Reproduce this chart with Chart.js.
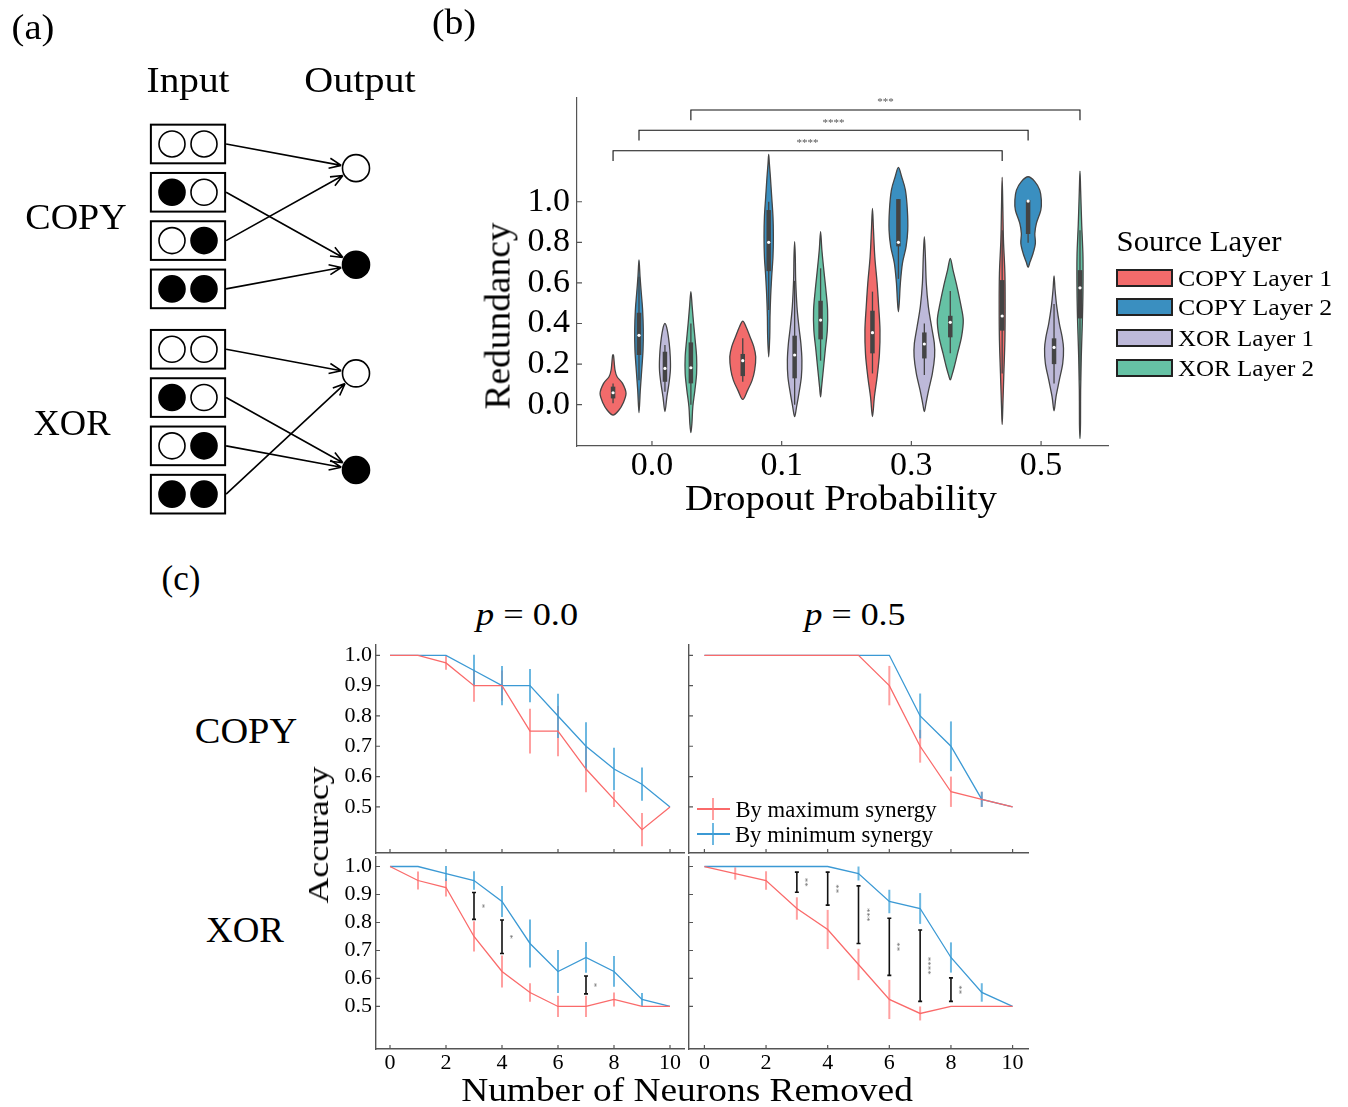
<!DOCTYPE html>
<html>
<head>
<meta charset="utf-8">
<title>Redundancy and synergy</title>
<script src="https://cdn.jsdelivr.net/npm/chart.js@4.4.1/dist/chart.umd.min.js"></script>
<style>
  body { margin: 0; width: 1348px; height: 1107px; position: relative; overflow: hidden; background: #fff;
         font-family: "Liberation Serif", "Times New Roman", serif; }
  canvas { position: absolute; }
  .t { position: absolute; white-space: nowrap; line-height: 1; color: #000; transform: translate(-50%, -50%); }
  .sw { position: absolute; width: 53px; height: 14px; border: 2px solid #222; }
  .mk { position: absolute; }
</style>
</head>
<body>
<canvas id="panelA"></canvas>
<canvas id="panelB"></canvas>
<canvas id="copyP0"></canvas>
<canvas id="copyP5"></canvas>
<canvas id="xorP0"></canvas>
<canvas id="xorP5"></canvas>
<script>
const SERIF = '"Liberation Serif", "Times New Roman", serif';

// ---- (a) task diagram
const inputPatterns = [[0, 0], [1, 0], [0, 1], [1, 1]];
const copyOutput = [0, 1, 0, 1];
const xorOutput = [0, 1, 1, 0];

// ---- (b) redundancy violins
const dropoutLabels = ['0.0', '0.1', '0.3', '0.5'];
const sourceLayers = ['COPY Layer 1', 'COPY Layer 2', 'XOR Layer 1', 'XOR Layer 2'];
const layerColors = ['#f26b6b', '#3a8fc0', '#bdb9d9', '#66c2a5'];

// violin outlines: redundancy values and half widths (hundredths of a category step), per dropout group
const copy1Y = [[-0.051, -0.026, 0.007, 0.056, 0.105, 0.138, 0.171, 0.236, 0.245],
                [0.026, 0.072, 0.12, 0.171, 0.236, 0.286, 0.335, 0.384, 0.412],
                [-0.059, 0.039, 0.138, 0.253, 0.368, 0.483, 0.598, 0.729, 0.86, 0.967],
                [-0.097, -0.01, 0.154, 0.319, 0.483, 0.647, 0.811, 0.975, 1.12]];
const copy1W = [[0, 4.6, 7.7, 10, 7.3, 3.1, 1.5, 0.5, 0],
                [0, 3.8, 7.2, 9.2, 10, 8.5, 5.6, 2.5, 0],
                [0, 1.5, 3.6, 5.4, 5.8, 4.8, 3.6, 1.8, 0.8, 0],
                [0, 0.5, 1.3, 2.1, 2.3, 2.1, 1.0, 0.5, 0]];
const copy2Y = [[-0.039, 0.072, 0.171, 0.269, 0.368, 0.466, 0.548, 0.631, 0.713],
                [0.236, 0.335, 0.433, 0.532, 0.631, 0.729, 0.828, 0.926, 1.025, 1.123, 1.189, 1.233],
                [0.458, 0.516, 0.598, 0.696, 0.778, 0.86, 0.959, 1.057, 1.123, 1.169],
                [0.677, 0.704, 0.745, 0.795, 0.844, 0.893, 0.959, 1.008, 1.057, 1.099, 1.123]];
const copy2W = [[0, 1.0, 2.1, 3.1, 3.3, 2.8, 1.8, 0.8, 0],
                [0, 0.8, 1.0, 1.5, 2.3, 3.3, 3.6, 3.3, 2.3, 1.3, 0.5, 0],
                [0, 0.8, 1.5, 3.1, 5.9, 7.2, 6.9, 5.4, 2.5, 0],
                [0, 1.5, 3.8, 5.6, 5.2, 6.4, 9.8, 10.2, 9, 5.2, 0]];
const xor1Y = [[-0.034, 0.039, 0.105, 0.171, 0.236, 0.302, 0.368, 0.40],
               [-0.059, -0.01, 0.056, 0.138, 0.22, 0.302, 0.384, 0.483, 0.614, 0.729, 0.803],
               [-0.034, 0.007, 0.072, 0.154, 0.236, 0.302, 0.384, 0.483, 0.598, 0.729, 0.828],
               [-0.03, 0.039, 0.122, 0.204, 0.277, 0.335, 0.40, 0.483, 0.565, 0.635]];
const xor1W = [[0, 1.5, 3.1, 4.2, 4.1, 3.3, 1.8, 0],
               [0, 1.5, 3.3, 5.2, 5.6, 4.8, 3.3, 1.8, 0.8, 0.5, 0],
               [0, 1.3, 3.3, 6.2, 7.9, 7.7, 5.6, 3.1, 1.5, 0.8, 0],
               [0, 1.5, 4.1, 6.7, 7.3, 6.2, 4.1, 2.1, 0.8, 0]];
const xor2Y = [[-0.138, -0.092, -0.01, 0.072, 0.154, 0.236, 0.319, 0.40, 0.483, 0.557],
               [0.039, 0.089, 0.171, 0.269, 0.368, 0.466, 0.565, 0.663, 0.762, 0.852],
               [0.122, 0.146, 0.187, 0.253, 0.335, 0.417, 0.499, 0.581, 0.663, 0.721],
               [-0.166, -0.092, 0.072, 0.236, 0.40, 0.565, 0.729, 0.893, 1.057, 1.151]];
const xor2W = [[0, 0.8, 1.5, 3.1, 4.4, 4.4, 3.3, 2.1, 1.0, 0],
               [0, 0.8, 2.1, 3.6, 5.2, 5.4, 4.1, 2.5, 1.0, 0],
               [0, 1.3, 3.1, 5.6, 8.7, 10, 7.9, 5.2, 2.1, 0],
               [0, 0.4, 0.5, 1.0, 1.8, 2.3, 2.3, 1.3, 0.5, 0]];

// inner box plots, layer x dropout group
const boxQ1 = [[0.031, 0.141, 0.253, 0.365], [0.245, 0.658, 0.78, 0.841], [0.113, 0.13, 0.228, 0.2], [0.105, 0.322, 0.332, 0.425]];
const boxQ3 = [[0.089, 0.25, 0.463, 0.614], [0.453, 0.959, 1.013, 1.008], [0.261, 0.34, 0.356, 0.327], [0.307, 0.512, 0.438, 0.663]];
const boxMed = [[0.059, 0.217, 0.355, 0.437], [0.342, 0.80, 0.80, 1.003], [0.179, 0.245, 0.299, 0.282], [0.182, 0.417, 0.406, 0.576]];
const whiskLo = [[0.007, 0.113, 0.154, 0.154], [0.12, 0.466, 0.62, 0.798], [0.064, 0.0, 0.146, 0.105], [0.0, 0.217, 0.253, 0.12]];
const whiskHi = [[0.105, 0.327, 0.557, 0.86], [0.63, 1.0, 1.013, 1.008], [0.294, 0.61, 0.40, 0.496], [0.40, 0.672, 0.56, 0.86]];

// significance brackets between dropout 0.0 and 0.5: layer, stars, height
const bracketLayer = [0, 1, 3];
const bracketStars = ['****', '****', '***'];
const bracketLevel = [1.251, 1.352, 1.452];

// ---- (c) accuracy after removing neurons
const removed = [0, 1, 2, 3, 4, 5, 6, 7, 8, 9, 10];
const copyP0Max = [1.0, 1.0, 0.975, 0.90, 0.90, 0.75, 0.75, 0.625, 0.525, 0.425, 0.5];
const copyP0MaxErr = [0, 0, 0.023, 0.053, 0.05, 0.074, 0.083, 0.077, 0.025, 0.055, 0];
const copyP0Min = [1.0, 1.0, 1.0, 0.95, 0.90, 0.90, 0.80, 0.70, 0.625, 0.575, 0.5];
const copyP0MinErr = [0, 0, 0, 0.052, 0.065, 0.055, 0.073, 0.079, 0.07, 0.055, 0];
const copyP5Max = [1, 1, 1, 1, 1, 1, 0.90, 0.70, 0.55, 0.525, 0.5];
const copyP5MaxErr = [0, 0, 0, 0, 0, 0, 0.065, 0.054, 0.05, 0.025, 0];
const copyP5Min = [1, 1, 1, 1, 1, 1, 1, 0.80, 0.70, 0.525, 0.5];
const copyP5MinErr = [0, 0, 0, 0, 0, 0, 0, 0.074, 0.082, 0.025, 0];
const xorP0Max = [1.0, 0.95, 0.925, 0.75, 0.625, 0.55, 0.5, 0.5, 0.525, 0.5, 0.5];
const xorP0MaxErr = [0, 0.032, 0.032, 0.054, 0.057, 0.033, 0.038, 0.038, 0.025, 0, 0];
const xorP0Min = [1.0, 1.0, 0.975, 0.95, 0.875, 0.725, 0.625, 0.675, 0.625, 0.525, 0.5];
const xorP0MinErr = [0, 0, 0.027, 0.033, 0.055, 0.086, 0.077, 0.055, 0.055, 0.023, 0];
const xorP5Max = [1.0, 0.975, 0.95, 0.85, 0.775, 0.65, 0.525, 0.475, 0.5, 0.5, 0.5];
const xorP5MaxErr = [0, 0.022, 0.033, 0.04, 0.07, 0.056, 0.07, 0.025, 0, 0, 0];
const xorP5Min = [1, 1, 1, 1, 1, 0.975, 0.875, 0.85, 0.675, 0.55, 0.5];
const xorP5MinErr = [0, 0, 0, 0, 0, 0.025, 0.042, 0.055, 0.054, 0.033, 0];
// significance bars: neurons removed, low, high, stars
const xorP0Sig = [[3, 0.811, 0.907, '*'], [4, 0.689, 0.809, '*'], [7, 0.545, 0.609, '*']];
const xorP5Sig = [[3, 0.908, 0.98, '**'], [4, 0.862, 0.98, '**'], [5, 0.725, 0.931, '***'],
                  [6, 0.611, 0.815, '**'], [7, 0.518, 0.773, '****'], [8, 0.518, 0.602, '**']];

const redLine = '#fa6a6a', redErr = 'rgba(255,120,120,0.7)';
const blueLine = '#3b99d4', blueErr = 'rgba(60,160,215,0.75)';

Chart.defaults.font.family = SERIF;
Chart.defaults.color = '#000';
Chart.defaults.animation = false;
Chart.defaults.plugins.legend.display = false;
Chart.defaults.plugins.tooltip.enabled = false;

function place(cv, left, top, w, h) {
  cv.style.left = left + 'px';
  cv.style.top = top + 'px';
  cv.width = w;
  cv.height = h;
}

// axis with a fixed thickness and no label overhang, so the plot area lands where it should
function fixedBox(size) {
  return s => {
    if (s.isHorizontal()) s.height = size; else s.width = size;
    s.paddingTop = s.paddingBottom = s.paddingLeft = s.paddingRight = 0;
  };
}

// text stretched to the width it has in the original figure
function addText(html, cx, cy, size, width, rotate) {
  const d = document.createElement('div');
  d.className = 't';
  d.innerHTML = html;
  d.style.fontSize = size + 'px';
  d.style.left = cx + 'px';
  d.style.top = cy + 'px';
  document.body.appendChild(d);
  const sx = width ? width / d.offsetWidth : 1;
  d.style.transform = 'translate(-50%, -50%)' + (rotate ? ' rotate(-90deg)' : '') + ' scaleX(' + sx + ')';
  return d;
}

// ticks pointing into the plot, like the original
const inTicks = {
  id: 'inTicks',
  afterDraw(chart, args, opts) {
    if (!opts.len) return;
    const {ctx, chartArea: a, scales: {x, y}} = chart;
    ctx.save();
    ctx.strokeStyle = '#555';
    ctx.lineWidth = 1.2;
    ctx.beginPath();
    x.ticks.forEach(t => { const p = x.getPixelForValue(t.value); ctx.moveTo(p, a.bottom); ctx.lineTo(p, a.bottom - opts.len); });
    y.ticks.forEach(t => { const p = y.getPixelForValue(t.value); ctx.moveTo(a.left, p); ctx.lineTo(a.left + opts.len, p); });
    ctx.stroke();
    ctx.restore();
  }
};

// ================= (a)
const blockStart = [0, 4.25];
const inPts = [], inFill = [], outPts = [], outFill = [];
[copyOutput, xorOutput].forEach((outs, g) => {
  inputPatterns.forEach((bits, r) => bits.forEach((b, i) => {
    inPts.push({x: i, y: blockStart[g] + r});
    inFill.push(b ? '#000' : '#fff');
  }));
  [0, 1].forEach(v => {
    outPts.push({x: 5.75, y: blockStart[g] + 0.5 + 2 * v});
    outFill.push(v ? '#000' : '#fff');
  });
});

const diagram = {
  id: 'diagram',
  beforeDatasetsDraw(chart) {
    const {ctx, scales: {x, y}} = chart;
    ctx.save();
    ctx.strokeStyle = '#000';
    [copyOutput, xorOutput].forEach((outs, g) => {
      inputPatterns.forEach((bits, r) => {
        const row = blockStart[g] + r;
        const x0 = x.getPixelForValue(-0.66), x1 = x.getPixelForValue(1.66);
        const y0 = y.getPixelForValue(row - 0.4), y1 = y.getPixelForValue(row + 0.4);
        ctx.lineWidth = 2;
        ctx.strokeRect(x0, y0, x1 - x0, y1 - y0);
        const sx = x1 + 1, sy = y.getPixelForValue(row);
        const tx = x.getPixelForValue(5.75), ty = y.getPixelForValue(blockStart[g] + 0.5 + 2 * outs[r]);
        const ang = Math.atan2(ty - sy, tx - sx);
        const ex = tx - 15 * Math.cos(ang), ey = ty - 15 * Math.sin(ang);
        ctx.lineWidth = 1.6;
        ctx.beginPath();
        ctx.moveTo(sx, sy);
        ctx.lineTo(ex, ey);
        for (const s of [-1, 1]) {
          ctx.moveTo(ex, ey);
          ctx.lineTo(ex - 13 * Math.cos(ang + s * 0.4), ey - 13 * Math.sin(ang + s * 0.4));
        }
        ctx.stroke();
      });
    });
    ctx.restore();
  }
};

const cvA = document.getElementById('panelA');
place(cvA, 0, 0, 440, 530);
new Chart(cvA, {
  type: 'scatter',
  data: {
    datasets: [
      {data: inPts, pointRadius: 13, pointBackgroundColor: inFill, pointBorderColor: '#000', pointBorderWidth: 1.6},
      {data: outPts, pointRadius: 13.5, pointBackgroundColor: outFill, pointBorderColor: '#000', pointBorderWidth: 1.6}
    ]
  },
  options: {
    responsive: false,
    layout: {padding: 0, autoPadding: false},
    scales: {
      x: {display: false, min: -5.375, max: 8.375},
      y: {display: false, min: -2.981, max: 7.992, reverse: true}
    }
  },
  plugins: [diagram]
});

// ================= (b)
const violinY = [copy1Y, copy2Y, xor1Y, xor2Y];
const violinW = [copy1W, copy2W, xor1W, xor2W];
const hueOffset = k => (k - 1.5) * 0.2;

function smoothClosed(ctx, pts) {
  const n = pts.length;
  ctx.moveTo(pts[0][0], pts[0][1]);
  for (let i = 0; i < n; i++) {
    const p0 = pts[(i - 1 + n) % n], p1 = pts[i], p2 = pts[(i + 1) % n], p3 = pts[(i + 2) % n];
    ctx.bezierCurveTo(p1[0] + (p2[0] - p0[0]) / 6, p1[1] + (p2[1] - p0[1]) / 6,
                      p2[0] - (p3[0] - p1[0]) / 6, p2[1] - (p3[1] - p1[1]) / 6, p2[0], p2[1]);
  }
}

const violins = {
  id: 'violins',
  beforeDatasetsDraw(chart) {
    const {ctx, scales: {x, y}} = chart;
    ctx.save();
    sourceLayers.forEach((name, k) => {
      dropoutLabels.forEach((lab, g) => {
        const c = g + hueOffset(k);
        const ys = violinY[k][g], ws = violinW[k][g];
        const right = ys.map((v, i) => [x.getPixelForValue(c + ws[i] / 100), y.getPixelForValue(v)]);
        const left = ys.map((v, i) => [x.getPixelForValue(c - ws[i] / 100), y.getPixelForValue(v)]);
        const loop = right.concat(left.slice(1, -1).reverse());
        ctx.beginPath();
        smoothClosed(ctx, loop);
        ctx.closePath();
        ctx.fillStyle = layerColors[k];
        ctx.fill();
        ctx.strokeStyle = '#444';
        ctx.lineWidth = 1.3;
        ctx.stroke();
        const px = x.getPixelForValue(c);
        ctx.beginPath();
        ctx.moveTo(px, y.getPixelForValue(whiskLo[k][g]));
        ctx.lineTo(px, y.getPixelForValue(whiskHi[k][g]));
        ctx.lineWidth = 1.3;
        ctx.stroke();
        ctx.beginPath();
        ctx.moveTo(px, y.getPixelForValue(boxQ1[k][g]));
        ctx.lineTo(px, y.getPixelForValue(boxQ3[k][g]));
        ctx.lineWidth = 4.5;
        ctx.stroke();
      });
    });
    ctx.restore();
  },
  afterDraw(chart) {
    const {ctx, scales: {x, y}} = chart;
    ctx.save();
    bracketLayer.forEach((k, i) => {
      const xa = x.getPixelForValue(0 + hueOffset(k)), xb = x.getPixelForValue(3 + hueOffset(k));
      const yl = y.getPixelForValue(bracketLevel[i]), yd = y.getPixelForValue(bracketLevel[i] - 0.05);
      ctx.strokeStyle = '#111';
      ctx.lineWidth = 1.1;
      ctx.beginPath();
      ctx.moveTo(xa, yd); ctx.lineTo(xa, yl); ctx.lineTo(xb, yl); ctx.lineTo(xb, yd);
      ctx.stroke();
      ctx.fillStyle = '#555';
      ctx.font = '11px ' + SERIF;
      ctx.textAlign = 'center';
      ctx.textBaseline = 'bottom';
      ctx.fillText(bracketStars[i], (xa + xb) / 2, yl - 2);
    });
    ctx.restore();
  }
};

const cvB = document.getElementById('panelB');
place(cvB, 470, 85, 650, 440);
new Chart(cvB, {
  type: 'scatter',
  data: {
    datasets: sourceLayers.map((name, k) => ({
      label: name,
      data: dropoutLabels.map((lab, g) => ({x: g + hueOffset(k), y: boxMed[k][g]})),
      pointRadius: 1.6,
      pointBackgroundColor: '#fff',
      pointBorderWidth: 0
    }))
  },
  options: {
    responsive: false,
    layout: {padding: {top: 13, right: 12, left: 0, bottom: 0}, autoPadding: false},
    scales: {
      x: {
        type: 'linear', min: -0.578, max: 3.516,
        afterFit: fixedBox(79),
        afterBuildTicks: s => { s.ticks = [0, 1, 2, 3].map(v => ({value: v})); },
        grid: {display: false, drawTicks: false},
        border: {display: true, color: '#555', width: 1.2},
        ticks: {callback: v => dropoutLabels[v], font: {size: 34}, padding: 0, maxRotation: 0}
      },
      y: {
        min: -0.2034, max: 1.511,
        afterFit: fixedBox(107),
        afterBuildTicks: s => { s.ticks = [0, 0.2, 0.4, 0.6, 0.8, 1.0].map(v => ({value: v})); },
        grid: {display: false, drawTicks: false},
        border: {display: true, color: '#555', width: 1.2},
        ticks: {callback: v => v.toFixed(1), font: {size: 34}, padding: 7}
      }
    },
    plugins: {inTicks: {len: 5}}
  },
  plugins: [violins, inTicks]
});

// legend of (b)
addText('Source Layer', 1199, 241, 30, 165);
const legendRows = [277.5, 307, 338, 368];
sourceLayers.forEach((name, k) => {
  const sw = document.createElement('div');
  sw.className = 'sw';
  sw.style.left = '1116px';
  sw.style.top = (legendRows[k] - 9) + 'px';
  sw.style.background = layerColors[k];
  document.body.appendChild(sw);
  const w = k < 2 ? 154 : 136;
  addText(name, 1178 + w / 2, legendRows[k], 23, w);
});

// ================= (c)
const errBars = {
  id: 'errBars',
  beforeDatasetsDraw(chart) {
    const {ctx, scales: {x, y}} = chart;
    ctx.save();
    chart.data.datasets.forEach(ds => {
      ctx.strokeStyle = ds.errColor;
      ctx.lineWidth = 2;
      ds.data.forEach((p, i) => {
        const e = ds.err[i];
        if (!e) return;
        const px = x.getPixelForValue(p.x);
        ctx.beginPath();
        ctx.moveTo(px, y.getPixelForValue(p.y - e));
        ctx.lineTo(px, y.getPixelForValue(p.y + e));
        ctx.stroke();
      });
    });
    ctx.restore();
  },
  afterDatasetsDraw(chart, args, opts) {
    if (!opts.sig) return;
    const {ctx, scales: {x, y}} = chart;
    ctx.save();
    opts.sig.forEach(([n, lo, hi, stars]) => {
      const px = x.getPixelForValue(n), y0 = y.getPixelForValue(lo), y1 = y.getPixelForValue(hi);
      ctx.strokeStyle = '#111';
      ctx.lineWidth = 1.6;
      ctx.beginPath();
      ctx.moveTo(px, y0); ctx.lineTo(px, y1);
      ctx.moveTo(px - 2, y0); ctx.lineTo(px + 2, y0);
      ctx.moveTo(px - 2, y1); ctx.lineTo(px + 2, y1);
      ctx.stroke();
      ctx.save();
      ctx.translate(px + 3, (y0 + y1) / 2);
      ctx.rotate(Math.PI / 2);
      ctx.fillStyle = '#666';
      ctx.font = '9px ' + SERIF;
      ctx.textAlign = 'center';
      ctx.textBaseline = 'bottom';
      ctx.fillText(stars, 0, 0);
      ctx.restore();
    });
    ctx.restore();
  }
};

function accuracyPanel(id, area, maxVals, maxErr, minVals, minErr, sig, showX, showY) {
  const yW = showY ? 46 : 4, xH = showX ? 40 : 4, padT = 6, padR = 6;
  const cv = document.getElementById(id);
  place(cv, area[0] - yW, area[1] - padT, area[2] - area[0] + yW + padR, area[3] - area[1] + padT + xH);
  new Chart(cv, {
    type: 'line',
    data: {
      datasets: [
        {label: 'By maximum synergy', data: removed.map((n, i) => ({x: n, y: maxVals[i]})), err: maxErr,
         errColor: redErr, borderColor: redLine, borderWidth: 1.3, pointRadius: 0},
        {label: 'By minimum synergy', data: removed.map((n, i) => ({x: n, y: minVals[i]})), err: minErr,
         errColor: blueErr, borderColor: blueLine, borderWidth: 1.3, pointRadius: 0}
      ]
    },
    options: {
      responsive: false,
      layout: {padding: {top: padT, right: padR, left: 0, bottom: 0}, autoPadding: false},
      scales: {
        x: {
          type: 'linear', min: -0.5, max: 10.5,
          afterFit: fixedBox(xH),
          afterBuildTicks: s => { s.ticks = [0, 2, 4, 6, 8, 10].map(v => ({value: v})); },
          grid: {display: false, drawTicks: false},
          border: {display: true, color: '#555', width: 1.4},
          ticks: {display: showX, font: {size: 22}, padding: 1, maxRotation: 0}
        },
        y: {
          min: 0.348, max: 1.034,
          afterFit: fixedBox(yW),
          afterBuildTicks: s => { s.ticks = [0.5, 0.6, 0.7, 0.8, 0.9, 1.0].map(v => ({value: v})); },
          grid: {display: false, drawTicks: false},
          border: {display: true, color: '#555', width: 1.4},
          ticks: {display: showY, callback: v => v.toFixed(1), font: {size: 22}, padding: 4}
        }
      },
      plugins: {inTicks: {len: 4}, errBars: {sig}}
    },
    plugins: [errBars, inTicks]
  });
}

accuracyPanel('copyP0', [376, 645, 684, 853], copyP0Max, copyP0MaxErr, copyP0Min, copyP0MinErr, null, false, true);
accuracyPanel('copyP5', [689, 645, 1028, 853], copyP5Max, copyP5MaxErr, copyP5Min, copyP5MinErr, null, false, false);
accuracyPanel('xorP0', [376, 857, 684, 1049], xorP0Max, xorP0MaxErr, xorP0Min, xorP0MinErr, xorP0Sig, true, true);
accuracyPanel('xorP5', [689, 857, 1028, 1049], xorP5Max, xorP5MaxErr, xorP5Min, xorP5MinErr, xorP5Sig, true, false);

// legend of (c)
[[809, redLine, redErr, 'By maximum synergy', 201], [834, blueLine, blueErr, 'By minimum synergy', 198]].forEach(([cy, line, err, text, w]) => {
  const h = document.createElement('div');
  h.className = 'mk';
  Object.assign(h.style, {left: '697px', top: (cy - 1) + 'px', width: '33px', height: '2px', background: line});
  const v = document.createElement('div');
  v.className = 'mk';
  Object.assign(v.style, {left: '712px', top: (cy - 11) + 'px', width: '2px', height: '22px', background: err});
  document.body.appendChild(h);
  document.body.appendChild(v);
  addText(text, 735 + w / 2, cy, 23, w);
});

// ---- text labels
addText('(a)', 33, 27, 35, 43);
addText('(b)', 454, 22, 35, 44);
addText('(c)', 181, 578, 35, 39);
addText('Input', 188, 80, 35, 83);
addText('Output', 360, 80, 35, 111);
addText('COPY', 76, 217, 35, 101);
addText('XOR', 72, 423, 35, 77);
addText('Redundancy', 498, 316, 35, 187, true);
addText('Dropout Probability', 841, 498, 35, 312);
addText('<i>p</i> = 0.0', 527, 614, 32, 102);
addText('<i>p</i> = 0.5', 855, 614, 32, 101);
addText('COPY', 246, 731, 35, 102);
addText('XOR', 245, 930, 35, 78);
addText('Accuracy', 318, 835, 30, 137, true);
addText('Number of Neurons Removed', 687, 1090, 34, 452);
</script>
</body>
</html>
